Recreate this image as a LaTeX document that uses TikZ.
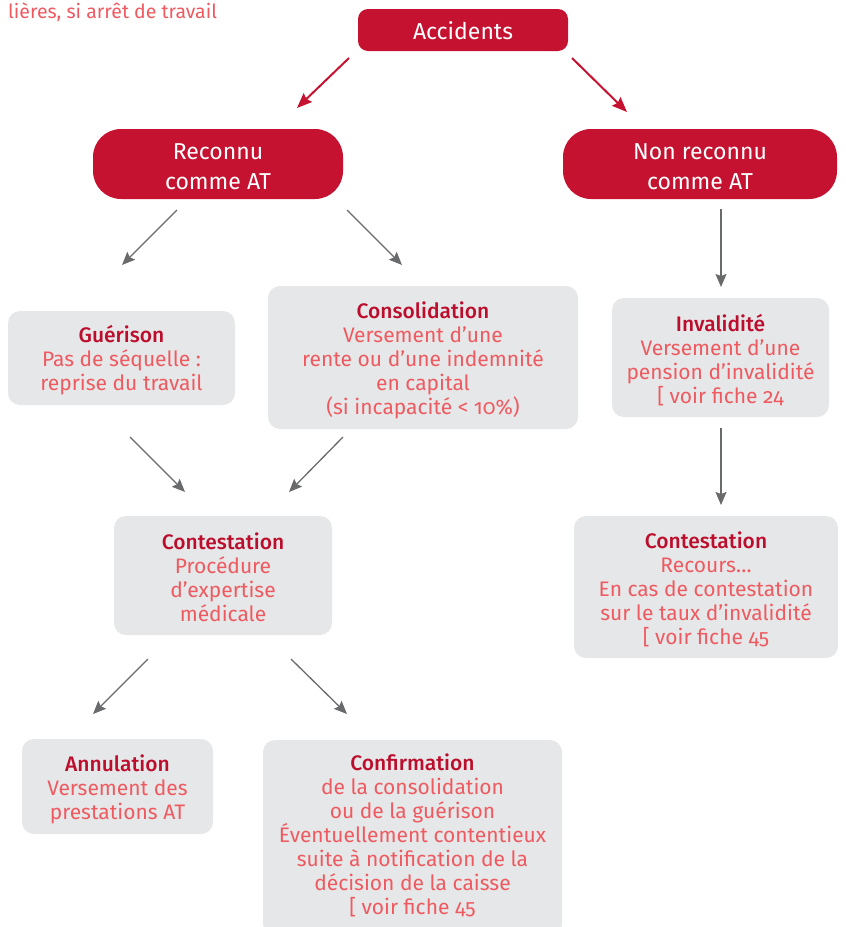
\documentclass[tikz,border=0pt]{standalone}
\usepackage{fontspec}
\setmainfont{Fira Sans}[Numbers=OldStyle, BoldFont={Fira Sans Medium}]
\usetikzlibrary{arrows.meta}
\definecolor{bred}{RGB}{196,18,48}
\definecolor{tred}{RGB}{188,14,44}
\definecolor{pinktxt}{RGB}{239,90,96}
\definecolor{boxgray}{RGB}{230,231,232}
\definecolor{agray}{RGB}{105,106,108}
\tikzset{
  redbox/.style={fill=bred, inner sep=0pt},
  redtext/.style={text=white, align=center, inner sep=0pt,
    font=\fontsize{23}{29.5}\selectfont},
  graybox/.style={fill=boxgray, rounded corners=12pt, inner sep=0pt},
  graytext/.style={align=center, inner sep=0pt,
    text=pinktxt, font=\fontsize{21}{24}\selectfont},
  grayarrow/.style={draw=agray, line width=1.3pt, -{Stealth[length=13pt,width=11pt,inset=2pt]}},
  redarrow/.style={draw=bred, line width=2pt, -{Stealth[length=15pt,width=12pt,inset=2pt]}},
}
\newcommand{\ttl}[1]{\textcolor{tred}{\bfseries #1}}
\begin{document}
\begin{tikzpicture}[x=1pt,y=-1pt]
\useasboundingbox (0,0) rectangle (846,927);
\clip (0,0) rectangle (846,927);

\node[anchor=base west, text=pinktxt, inner sep=0pt, font=\fontsize{19.5}{24}\selectfont] (note) at (8,18) {lières, si arrêt de travail};

% red boxes
\node[redbox, rounded corners=10pt, minimum width=210pt, minimum height=42pt] (acc) at (463,30) {};
\node[redbox, rounded corners=28pt, minimum width=250pt, minimum height=70pt] (rec) at (218,164) {};
\node[redbox, rounded corners=28pt, minimum width=274pt, minimum height=70pt] (nrec) at (700,164) {};
\node[redtext] (acct) at ([yshift=-1pt]acc.center) {Accidents};
\node[redtext] (rect) at ([yshift=-2.5pt]rec.center) {Reconnu\\comme AT};
\node[redtext] (nrect) at ([yshift=-2.5pt]nrec.center) {Non reconnu\\comme AT};

% gray boxes
\node[graybox, minimum width=227pt, minimum height=94pt] (gue) at (121.5,358) {};
\node[graybox, minimum width=310pt, minimum height=143pt] (cons) at (423,357.5) {};
\node[graybox, minimum width=217pt, minimum height=119pt] (inv) at (720.5,357.5) {};
\node[graybox, minimum width=218pt, minimum height=119pt] (contl) at (223,575.5) {};
\node[graybox, minimum width=264pt, minimum height=142pt] (contr) at (706,587) {};
\node[graybox, minimum width=191pt, minimum height=95pt] (ann) at (117.5,786.5) {};
\node[graybox, minimum width=299pt, minimum height=196pt] (conf) at (412.5,838) {};

\node[graytext] (guet) at ([yshift=-2pt]gue.center) {\ttl{Guérison}\\Pas de séquelle :\\reprise du travail};
\node[graytext] (const) at ([yshift=-3pt]cons.center) {\ttl{Consolidation}\\Versement d’une\\rente ou d’une indemnité\\en capital\\(si incapacité < 10\%)};
\node[graytext] (invt) at ([yshift=-2.5pt]inv.center) {\ttl{Invalidité}\\Versement d’une\\pension d’invalidité\\{[} voir fiche 24};
\node[graytext] (contlt) at ([yshift=-1.5pt]contl.center) {\ttl{Contestation}\\Procédure\\d’expertise\\médicale};
\node[graytext] (contrt) at ([yshift=-2pt]contr.center) {\ttl{Contestation}\\Recours…\\En cas de contestation\\sur le taux d’invalidité\\{[} voir fiche 45};
\node[graytext] (annt) at ([yshift=-3pt]ann.center) {\ttl{Annulation}\\Versement des\\prestations AT};
\node[graytext] (conft) at ([yshift=3pt]conf.center) {\ttl{Confirmation}\\de la consolidation\\ou de la guérison\\Éventuellement contentieux\\suite à notification de la\\décision de la caisse\\{[} voir fiche 45};

\coordinate (r1s) at (349,58);  \coordinate (r1e) at (297,108);
\coordinate (r2s) at (572,58);  \coordinate (r2e) at (627,112);
\coordinate (g1s) at (177,210); \coordinate (g1e) at (122,265);
\coordinate (g2s) at (347,210); \coordinate (g2e) at (402,265);
\coordinate (g3s) at (721,209); \coordinate (g3e) at (721,287);
\coordinate (g4s) at (130,437); \coordinate (g4e) at (185,492);
\coordinate (g5s) at (343,437); \coordinate (g5e) at (289,492);
\coordinate (g6s) at (721,428); \coordinate (g6e) at (721,505);
\coordinate (g7s) at (148,659); \coordinate (g7e) at (93,714);
\coordinate (g8s) at (291,659); \coordinate (g8e) at (347,714);

\draw[redarrow] (r1s) -- (r1e);
\draw[redarrow] (r2s) -- (r2e);
\draw[grayarrow] (g1s) -- (g1e);
\draw[grayarrow] (g2s) -- (g2e);
\draw[grayarrow] (g3s) -- (g3e);
\draw[grayarrow] (g4s) -- (g4e);
\draw[grayarrow] (g5s) -- (g5e);
\draw[grayarrow] (g6s) -- (g6e);
\draw[grayarrow] (g7s) -- (g7e);
\draw[grayarrow] (g8s) -- (g8e);
\end{tikzpicture}
\end{document}
